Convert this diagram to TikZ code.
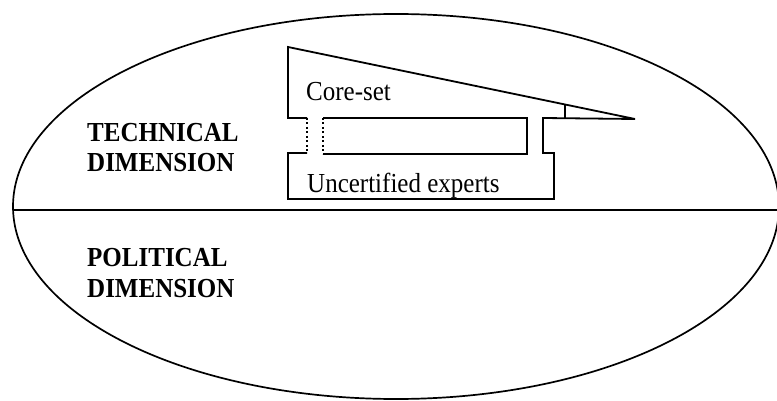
\documentclass[tikz,border=0pt]{standalone}
\usepackage{fontspec}
\usepackage{graphicx}
\setmainfont{Liberation Serif}
\newcommand{\tallt}[1]{\scalebox{1}[1.1]{#1}}
\begin{document}
\begin{tikzpicture}[x=1pt,y=-1pt,
  outline/.style={line width=1.8pt,line join=miter},
  dots/.style={line width=1.2pt,dash pattern=on 2pt off 2.5pt},
  lbl/.style={anchor=base west,inner sep=0pt,font=\fontsize{25}{29}\selectfont},
  dimlbl/.style={anchor=base west,inner sep=0pt,font=\fontsize{25}{29}\selectfont\bfseries}]
\useasboundingbox (0,0) rectangle (777,401);
\fill[white] (0,0) rectangle (777,401);
% outer ellipse
\draw[line width=1.7pt] (396,206.5) ellipse [x radius=383, y radius=192.5];
\coordinate (divL) at (13,210);
\coordinate (divR) at (779,210);
\draw[line width=2pt] (divL) -- (divR);
% named corners of the core-set / uncertified experts outline
\coordinate (tl) at (288,47);
\coordinate (s1) at (288,118);
\coordinate (s2) at (307,118);
\coordinate (s3) at (307,153);
\coordinate (s4) at (288,153);
\coordinate (bl) at (288,199);
\coordinate (br) at (554,199);
\coordinate (r1) at (554,153);
\coordinate (r2) at (543,153);
\coordinate (r3) at (543,118);
\coordinate (tip) at (635,119);
\draw[outline] (s2) -- (s1) -- (tl) -- (tip) -- (r3) -- (r2) -- (r1) -- (br) -- (bl) -- (s4) -- (s3);
\draw[dots] (s2) -- (s3);
% inner box
\coordinate (i1) at (323,118);
\coordinate (i2) at (527,118);
\coordinate (i3) at (527,154);
\coordinate (i4) at (323,154);
\draw[outline] (i1) -- (i2) -- (i3) -- (i4);
\draw[dots] (i1) -- (i4);
% small tick under the diagonal
\coordinate (tk1) at (565,118.5);
\coordinate (tk2) at (565,104);
\draw[line width=1.3pt] (tk1) -- (tk2);
% texts
\node[lbl] (core) at (306,101) {\tallt{Core-set}};
\node[lbl] (unc) at (307,193) {\tallt{Uncertified experts}};
\node[dimlbl] (tech1) at (87,142) {\tallt{TECHNICAL}};
\node[dimlbl] (tech2) at (87,172) {\tallt{DIMENSION}};
\node[dimlbl] (pol1) at (87,266) {\tallt{POLITICAL}};
\node[dimlbl] (pol2) at (87,297) {\tallt{DIMENSION}};
\end{tikzpicture}
\end{document}
